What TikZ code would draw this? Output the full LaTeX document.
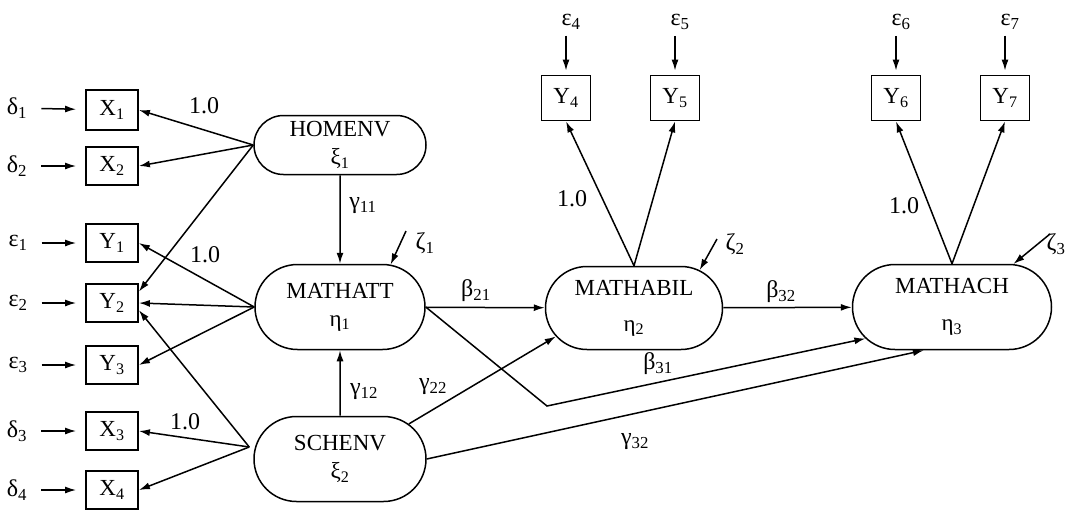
\documentclass[tikz,border=0pt]{standalone}
\usepackage{fontspec}
\setmainfont{Liberation Serif}
\usetikzlibrary{arrows.meta, shapes.misc}
\newcommand{\sub}[1]{\textsubscript{#1}}
\tikzset{latent/.style={rounded rectangle, draw, line width=1.5pt, inner sep=0pt, align=center},
  obs/.style={rectangle, draw, line width=1.8pt, minimum width=52pt, minimum height=38pt, inner sep=0pt},
  obstop/.style={obs, minimum width=49pt, minimum height=45pt},
  lbl/.style={inner sep=0pt, font=\fontsize{24}{28}\selectfont},
  arr/.style={line width=1.5pt, -{Latex[length=11pt,width=7pt]}},
  errarr/.style n args={2}{arr, shorten <=#1, shorten >=#2}
}

\begin{document}
\begin{tikzpicture}[x=1pt, y=-1pt, font=\fontsize{23}{28}\selectfont]
      \useasboundingbox (0,0) rectangle (1066,512);
      \node[latent, minimum width=172pt, minimum height=59pt] (homenv) at (340,145) {HOMENV\\ξ\sub{1}};
      \node[latent, minimum width=170pt, minimum height=85pt] (mathatt) at (340,307) {MATHATT\\η\sub{1}};
      \node[latent, minimum width=172pt, minimum height=85pt] (schenv) at (340,459) {SCHENV\\ξ\sub{2}};
      \node[latent, minimum width=177pt, minimum height=83pt] (mathabil) at (634,308) {MATHABIL\\[8pt]η\sub{2}};
      \node[latent, minimum width=199pt, minimum height=85pt] (mathach) at (952,307) {MATHACH\\[9pt]η\sub{3}};
      \node[obs, minimum height=40pt] (x1) at (112,110) {X\sub{1}};
      \node[obs] (x2) at (112,166) {X\sub{2}};
      \node[obs] (y1) at (112,243) {Y\sub{1}};
      \node[obs] (y2) at (112,303) {Y\sub{2}};
      \node[obs] (y3) at (112,365) {Y\sub{3}};
      \node[obs] (x3) at (112,431) {X\sub{3}};
      \node[obs] (x4) at (112,490) {X\sub{4}};
      \node[obstop] (y4) at (566,98) {Y\sub{4}};
      \node[obstop] (y5) at (675,98) {Y\sub{5}};
      \node[obstop] (y6) at (896,98) {Y\sub{6}};
      \node[obstop] (y7) at (1005,98) {Y\sub{7}};
      \node[lbl] (d1) at (17,108) {δ\sub{1}};
      \node[lbl] (d2) at (17,166) {δ\sub{2}};
      \node[lbl] (e1) at (18,243) {ε\sub{1}};
      \node[lbl] (e2) at (18,303) {ε\sub{2}};
      \node[lbl] (e3) at (18,365) {ε\sub{3}};
      \node[lbl] (d3) at (17,431) {δ\sub{3}};
      \node[lbl] (d4) at (17,490) {δ\sub{4}};
      \node[lbl] (e4) at (571,22) {ε\sub{4}};
      \node[lbl] (e5) at (680,22) {ε\sub{5}};
      \node[lbl] (e6) at (901,22) {ε\sub{6}};
      \node[lbl] (e7) at (1010,22) {ε\sub{7}};
      \node[lbl] (z1) at (425,243) {ζ\sub{1}};
      \node[lbl] (z2) at (735,244) {ζ\sub{2}};
      \node[lbl] (z3) at (1056,244) {ζ\sub{3}};
      \coordinate (z1s) at (406,231);
      \coordinate (z2s) at (717,239);
      \coordinate (z3s) at (1050,234);
      \coordinate (sfan) at ([xshift=-4pt,yshift=12pt]schenv.west);
      \coordinate (bend31) at (547,406);
      \draw[errarr={14pt}{9pt}] (d1) -- (x1);
      \draw[errarr={14pt}{9pt}] (d2) -- (x2);
      \draw[errarr={14pt}{9pt}] (e1) -- (y1);
      \draw[errarr={14pt}{9pt}] (e2) -- (y2);
      \draw[errarr={14pt}{9pt}] (e3) -- (y3);
      \draw[errarr={14pt}{9pt}] (d3) -- (x3);
      \draw[errarr={14pt}{9pt}] (d4) -- (x4);
      \draw[errarr={6pt}{4pt}] (e4.south -| y4) -- (y4);
      \draw[errarr={6pt}{4pt}] (e5.south -| y5) -- (y5);
      \draw[errarr={6pt}{4pt}] (e6.south -| y6) -- (y6);
      \draw[errarr={6pt}{4pt}] (e7.south -| y7) -- (y7);
      \draw[arr] (homenv.west) -- (x1.east);
      \draw[arr] (homenv.west) -- (x2.east);
      \draw[arr] (homenv.west) -- (y2.23);
      \draw[arr] (mathatt.west) -- (y1.east);
      \draw[arr] (mathatt.west) -- (y2.east);
      \draw[arr] (mathatt.west) -- (y3.east);
      \draw[arr] (sfan) -- (y2.-15);
      \draw[arr] (sfan) -- (x3.east);
      \draw[arr] (sfan) -- (x4.east);
      \draw[arr] (mathabil.north) -- (y4.south);
      \draw[arr] (mathabil.north) -- (y5.south);
      \draw[arr] (mathach.north) -- (y6.south);
      \draw[arr] (mathach.north) -- (y7.south);
      \draw[arr] (homenv) -- (mathatt);
      \draw[arr] (schenv) -- (mathatt);
      \draw[arr] (mathatt) -- (mathabil);
      \draw[arr] (mathabil) -- (mathach);
      \draw[arr] (mathatt.east) -- (bend31) -- (mathach.200);
      \draw[arr] (schenv.27) -- (mathabil.200);
      \draw[arr] (schenv.east) -- (mathach.237);
      \draw[arr] (z1s) -- (mathatt.40);
      \draw[arr] (z2s) -- (mathabil.30);
      \draw[arr] (z3s) -- (mathach.35);
      \node[lbl] (l1) at (204,106) {1.0};
      \node[lbl] (l2) at (205,255) {1.0};
      \node[lbl] (l3) at (185,422) {1.0};
      \node[lbl] (l4) at (572,199) {1.0};
      \node[lbl] (l5) at (904,206) {1.0};
      \node[lbl] (g11) at (363,206) {γ\sub{11}};
      \node[lbl] (g12) at (364,392) {γ\sub{12}};
      \node[lbl] (g22) at (433,387) {γ\sub{22}};
      \node[lbl] (g32) at (635,442) {γ\sub{32}};
      \node[lbl] (b21) at (476,291) {β\sub{21}};
      \node[lbl] (b32) at (781,292) {β\sub{32}};
      \node[lbl] (b31) at (658,364) {β\sub{31}};
    \end{tikzpicture}
\end{document}
